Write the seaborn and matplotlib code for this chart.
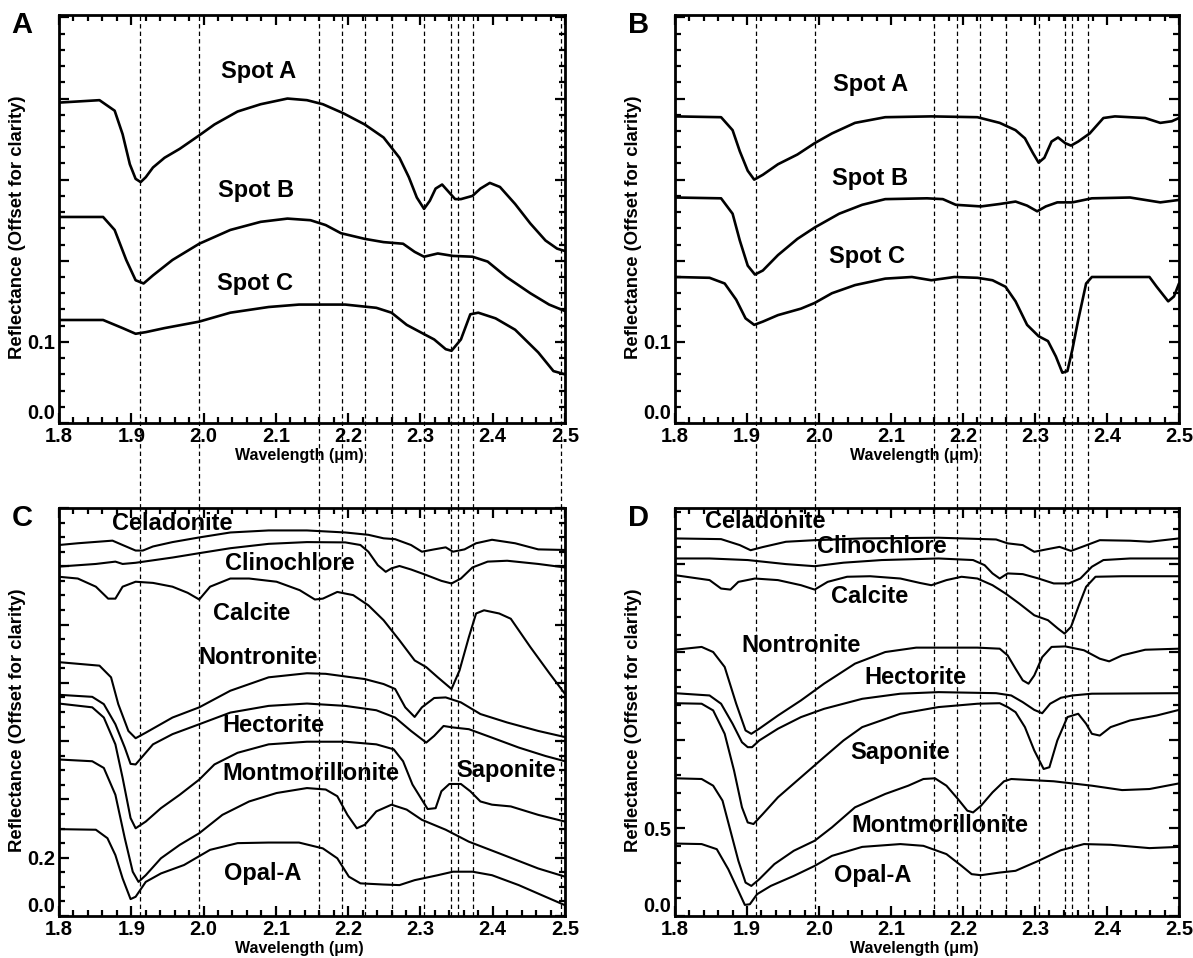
import numpy as np
import pandas as pd
import matplotlib
matplotlib.use("Agg")
import matplotlib.pyplot as plt
from matplotlib.ticker import FixedLocator, MultipleLocator
import seaborn as sns

# ---------------- Panel A: spot spectra (set 1) ----------------
a_spotA_wl = [1.800, 1.856, 1.877, 1.888, 1.898, 1.906, 1.913, 1.920, 1.930, 1.946, 1.967, 1.993, 2.015,
              2.047, 2.079, 2.116, 2.143, 2.165, 2.193, 2.223, 2.249, 2.271, 2.284, 2.295, 2.305, 2.313,
              2.321, 2.330, 2.337, 2.348, 2.356, 2.372, 2.383, 2.396, 2.410, 2.431, 2.452, 2.473, 2.489, 2.500]
a_spotA_r = [0.395, 0.398, 0.385, 0.356, 0.319, 0.301, 0.297, 0.303, 0.315, 0.327, 0.338, 0.354, 0.368,
             0.384, 0.393, 0.400, 0.398, 0.393, 0.382, 0.368, 0.352, 0.327, 0.303, 0.278, 0.264, 0.274,
             0.289, 0.294, 0.287, 0.276, 0.276, 0.280, 0.289, 0.296, 0.291, 0.270, 0.246, 0.225, 0.215, 0.212]
a_spotB_wl = [1.800, 1.861, 1.877, 1.893, 1.906, 1.917, 1.930, 1.957, 1.994, 2.037, 2.079, 2.116, 2.148,
              2.169, 2.190, 2.223, 2.249, 2.276, 2.292, 2.305, 2.324, 2.345, 2.372, 2.393, 2.419, 2.452,
              2.478, 2.500]
a_spotB_r = [0.254, 0.254, 0.238, 0.201, 0.176, 0.172, 0.182, 0.201, 0.221, 0.238, 0.248, 0.252, 0.250,
             0.244, 0.234, 0.227, 0.223, 0.221, 0.211, 0.205, 0.209, 0.206, 0.205, 0.199, 0.180, 0.160,
             0.146, 0.138]
a_spotC_wl = [1.800, 1.861, 1.888, 1.906, 1.920, 1.946, 1.994, 2.037, 2.090, 2.132, 2.196, 2.239, 2.260,
              2.281, 2.302, 2.319, 2.335, 2.343, 2.356, 2.369, 2.380, 2.404, 2.431, 2.463, 2.484, 2.500]
a_spotC_r = [0.127, 0.127, 0.117, 0.110, 0.112, 0.117, 0.125, 0.136, 0.143, 0.146, 0.146, 0.142, 0.136,
             0.121, 0.111, 0.103, 0.091, 0.089, 0.103, 0.134, 0.136, 0.129, 0.115, 0.087, 0.064, 0.060]

# ---------------- Panel B: spot spectra (set 2) ----------------
b_spotA_wl = [1.800, 1.864, 1.880, 1.890, 1.901, 1.910, 1.922, 1.943, 1.970, 1.994, 2.018, 2.050, 2.092,
              2.156, 2.220, 2.251, 2.273, 2.286, 2.297, 2.305, 2.313, 2.323, 2.332, 2.342, 2.350, 2.360,
              2.376, 2.395, 2.411, 2.453, 2.474, 2.490, 2.500]
b_spotA_r = [0.378, 0.377, 0.361, 0.335, 0.311, 0.300, 0.306, 0.319, 0.331, 0.345, 0.357, 0.370, 0.377,
             0.378, 0.377, 0.370, 0.361, 0.351, 0.333, 0.321, 0.327, 0.347, 0.352, 0.345, 0.342, 0.347,
             0.357, 0.376, 0.378, 0.376, 0.370, 0.372, 0.376]
b_spotB_wl = [1.800, 1.864, 1.880, 1.890, 1.901, 1.911, 1.922, 1.943, 1.970, 1.994, 2.028, 2.060, 2.092,
              2.150, 2.172, 2.190, 2.225, 2.251, 2.273, 2.289, 2.303, 2.315, 2.331, 2.352, 2.379, 2.432,
              2.474, 2.500]
b_spotB_r = [0.278, 0.277, 0.258, 0.225, 0.194, 0.183, 0.188, 0.207, 0.227, 0.241, 0.258, 0.269, 0.276,
             0.277, 0.276, 0.269, 0.267, 0.270, 0.273, 0.268, 0.261, 0.267, 0.272, 0.272, 0.277, 0.278,
             0.272, 0.275]
b_spotC_wl = [1.800, 1.848, 1.869, 1.885, 1.898, 1.910, 1.922, 1.943, 1.975, 1.994, 2.018, 2.050, 2.092,
              2.129, 2.156, 2.188, 2.220, 2.241, 2.259, 2.273, 2.289, 2.305, 2.318, 2.329, 2.338, 2.345,
              2.352, 2.360, 2.371, 2.379, 2.459, 2.469, 2.485, 2.493, 2.500]
b_spotC_r = [0.180, 0.179, 0.172, 0.152, 0.129, 0.121, 0.125, 0.133, 0.141, 0.148, 0.160, 0.170, 0.178,
             0.180, 0.176, 0.180, 0.179, 0.176, 0.168, 0.150, 0.121, 0.107, 0.101, 0.082, 0.062, 0.064,
             0.091, 0.127, 0.172, 0.180, 0.180, 0.168, 0.150, 0.156, 0.172]

# ---------------- Panel C: library spectra (set 1) ----------------
c_celad_wl = [1.800, 1.826, 1.874, 1.888, 1.906, 1.916, 1.930, 1.957, 1.994, 2.037, 2.090, 2.143, 2.196,
              2.228, 2.249, 2.265, 2.287, 2.302, 2.319, 2.335, 2.345, 2.361, 2.377, 2.399, 2.431, 2.463, 2.500]
c_celad_r = [1.273, 1.279, 1.288, 1.273, 1.254, 1.254, 1.268, 1.283, 1.299, 1.316, 1.323, 1.323, 1.316,
             1.308, 1.296, 1.293, 1.273, 1.250, 1.258, 1.265, 1.250, 1.258, 1.279, 1.291, 1.279, 1.258, 1.256]
c_clino_wl = [1.800, 1.851, 1.878, 1.888, 1.906, 1.957, 1.994, 2.037, 2.090, 2.143, 2.196, 2.217, 2.228,
              2.241, 2.252, 2.260, 2.271, 2.287, 2.308, 2.329, 2.343, 2.356, 2.372, 2.393, 2.420, 2.463, 2.500]
c_clino_r = [1.199, 1.208, 1.216, 1.208, 1.212, 1.230, 1.245, 1.262, 1.277, 1.283, 1.282, 1.273, 1.250,
             1.204, 1.181, 1.193, 1.201, 1.189, 1.170, 1.150, 1.141, 1.158, 1.196, 1.216, 1.219, 1.208, 1.196]
c_calc_wl = [1.800, 1.826, 1.851, 1.868, 1.878, 1.888, 1.906, 1.930, 1.957, 1.978, 1.994, 2.009, 2.037,
             2.063, 2.101, 2.133, 2.154, 2.165, 2.185, 2.207, 2.228, 2.249, 2.271, 2.292, 2.308, 2.324,
             2.343, 2.354, 2.367, 2.377, 2.388, 2.409, 2.425, 2.452, 2.479, 2.500]
c_calc_r = [1.164, 1.158, 1.130, 1.089, 1.089, 1.130, 1.147, 1.143, 1.130, 1.109, 1.086, 1.130, 1.158,
            1.158, 1.147, 1.118, 1.086, 1.089, 1.112, 1.101, 1.066, 1.015, 0.946, 0.877, 0.854, 0.819,
            0.779, 0.842, 0.957, 1.038, 1.049, 1.038, 1.020, 0.923, 0.831, 0.762]
c_nont_wl = [1.800, 1.856, 1.872, 1.882, 1.896, 1.906, 1.920, 1.957, 1.994, 2.037, 2.090, 2.143, 2.169,
             2.223, 2.249, 2.265, 2.279, 2.292, 2.302, 2.319, 2.335, 2.356, 2.383, 2.420, 2.463, 2.500]
c_nont_r = [0.871, 0.859, 0.819, 0.727, 0.635, 0.610, 0.629, 0.681, 0.716, 0.773, 0.819, 0.833, 0.831,
            0.813, 0.796, 0.779, 0.716, 0.683, 0.716, 0.748, 0.750, 0.733, 0.693, 0.664, 0.635, 0.614]
c_hect_wl = [1.800, 1.846, 1.862, 1.878, 1.891, 1.899, 1.906, 1.914, 1.930, 1.957, 1.994, 2.037, 2.090,
             2.143, 2.196, 2.239, 2.265, 2.287, 2.308, 2.319, 2.332, 2.345, 2.367, 2.399, 2.436, 2.473, 2.500]
c_hect_r = [0.759, 0.752, 0.727, 0.658, 0.578, 0.522, 0.520, 0.543, 0.589, 0.624, 0.658, 0.698, 0.721,
            0.729, 0.721, 0.706, 0.681, 0.635, 0.595, 0.618, 0.652, 0.647, 0.641, 0.612, 0.578, 0.549, 0.531]
c_sapo_wl = [1.800, 1.846, 1.862, 1.878, 1.888, 1.899, 1.906, 1.920, 1.941, 1.967, 1.994, 2.015, 2.047,
             2.090, 2.143, 2.196, 2.239, 2.263, 2.276, 2.289, 2.302, 2.310, 2.321, 2.329, 2.340, 2.356,
             2.369, 2.383, 2.399, 2.425, 2.463, 2.500]
c_sapo_r = [0.729, 0.716, 0.681, 0.589, 0.474, 0.336, 0.301, 0.324, 0.370, 0.416, 0.468, 0.520, 0.560,
            0.589, 0.598, 0.598, 0.589, 0.572, 0.531, 0.451, 0.399, 0.367, 0.370, 0.428, 0.453, 0.453,
            0.428, 0.393, 0.382, 0.376, 0.347, 0.324]
c_mont_wl = [1.800, 1.846, 1.862, 1.878, 1.891, 1.902, 1.910, 1.920, 1.941, 1.967, 1.994, 2.026, 2.063,
             2.101, 2.143, 2.169, 2.185, 2.199, 2.212, 2.223, 2.239, 2.260, 2.281, 2.302, 2.335, 2.367,
             2.409, 2.463, 2.500]
c_mont_r = [0.537, 0.531, 0.508, 0.416, 0.267, 0.152, 0.117, 0.140, 0.198, 0.244, 0.284, 0.347, 0.393,
            0.422, 0.439, 0.434, 0.411, 0.347, 0.301, 0.313, 0.359, 0.382, 0.365, 0.330, 0.296, 0.255,
            0.215, 0.163, 0.135]
c_opal_wl = [1.800, 1.851, 1.867, 1.878, 1.888, 1.899, 1.906, 1.920, 1.941, 1.973, 2.009, 2.047, 2.090,
             2.132, 2.165, 2.185, 2.201, 2.217, 2.249, 2.271, 2.292, 2.324, 2.345, 2.372, 2.399, 2.436,
             2.473, 2.500]
c_opal_r = [0.298, 0.296, 0.267, 0.209, 0.129, 0.058, 0.066, 0.117, 0.146, 0.175, 0.227, 0.250, 0.252,
            0.252, 0.232, 0.198, 0.135, 0.112, 0.108, 0.106, 0.123, 0.140, 0.152, 0.152, 0.140, 0.106,
            0.066, 0.037]

# ---------------- Panel D: library spectra (set 2) ----------------
d_celad_wl = [1.800, 1.864, 1.890, 1.905, 1.922, 1.954, 1.994, 2.060, 2.166, 2.246, 2.262, 2.283, 2.299,
              2.315, 2.334, 2.350, 2.368, 2.390, 2.432, 2.459, 2.500]
d_celad_r = [2.147, 2.143, 2.109, 2.080, 2.098, 2.128, 2.137, 2.147, 2.151, 2.141, 2.119, 2.109, 2.071,
             2.084, 2.099, 2.076, 2.103, 2.137, 2.134, 2.128, 2.147]
d_clino_wl = [1.800, 1.848, 1.901, 1.954, 1.994, 2.034, 2.087, 2.166, 2.214, 2.230, 2.241, 2.251, 2.262,
              2.283, 2.305, 2.326, 2.347, 2.363, 2.379, 2.395, 2.432, 2.500]
d_clino_r = [2.033, 2.033, 2.024, 2.001, 1.989, 2.009, 2.024, 2.033, 2.024, 1.995, 1.948, 1.919, 1.948,
             1.944, 1.919, 1.891, 1.891, 1.919, 1.986, 2.024, 2.033, 2.033]
d_calc_wl = [1.800, 1.848, 1.864, 1.877, 1.888, 1.911, 1.943, 1.975, 1.994, 2.012, 2.039, 2.071, 2.113,
             2.140, 2.156, 2.177, 2.198, 2.220, 2.241, 2.259, 2.278, 2.299, 2.318, 2.332, 2.341, 2.350,
             2.361, 2.371, 2.384, 2.421, 2.500]
d_calc_r = [1.938, 1.910, 1.862, 1.856, 1.900, 1.919, 1.910, 1.881, 1.856, 1.900, 1.929, 1.932, 1.919,
            1.894, 1.881, 1.910, 1.929, 1.919, 1.881, 1.834, 1.777, 1.710, 1.682, 1.634, 1.606, 1.644,
            1.767, 1.872, 1.929, 1.932, 1.932]
d_nont_wl = [1.800, 1.837, 1.853, 1.869, 1.885, 1.898, 1.906, 1.917, 1.943, 1.975, 2.007, 2.050, 2.092,
             2.135, 2.220, 2.251, 2.262, 2.273, 2.283, 2.291, 2.299, 2.310, 2.323, 2.342, 2.368, 2.390,
             2.403, 2.421, 2.453, 2.500]
d_nont_r = [1.514, 1.530, 1.501, 1.416, 1.207, 1.055, 1.036, 1.065, 1.140, 1.226, 1.321, 1.435, 1.501,
            1.526, 1.526, 1.520, 1.482, 1.406, 1.340, 1.321, 1.368, 1.472, 1.530, 1.533, 1.511, 1.463,
            1.448, 1.482, 1.514, 1.520]
d_hect_wl = [1.800, 1.848, 1.864, 1.880, 1.893, 1.901, 1.907, 1.917, 1.943, 1.975, 2.007, 2.060, 2.113,
             2.166, 2.246, 2.267, 2.283, 2.299, 2.310, 2.321, 2.336, 2.352, 2.379, 2.500]
d_hect_r = [1.267, 1.254, 1.207, 1.093, 0.988, 0.960, 0.960, 0.998, 1.065, 1.131, 1.178, 1.235, 1.264,
            1.273, 1.267, 1.254, 1.216, 1.172, 1.153, 1.207, 1.241, 1.254, 1.264, 1.267]
d_sapo_wl = [1.800, 1.837, 1.853, 1.869, 1.882, 1.893, 1.901, 1.909, 1.922, 1.943, 1.975, 2.007, 2.034,
             2.060, 2.113, 2.166, 2.220, 2.251, 2.262, 2.273, 2.286, 2.299, 2.312, 2.320, 2.331, 2.345,
             2.360, 2.371, 2.379, 2.390, 2.405, 2.432, 2.469, 2.500]
d_sapo_r = [1.210, 1.207, 1.169, 1.036, 0.827, 0.618, 0.532, 0.523, 0.580, 0.675, 0.789, 0.903, 0.998,
            1.074, 1.150, 1.188, 1.207, 1.210, 1.188, 1.159, 1.074, 0.941, 0.836, 0.846, 0.998, 1.131,
            1.150, 1.093, 1.036, 1.026, 1.074, 1.112, 1.140, 1.172]
d_mont_wl = [1.800, 1.837, 1.853, 1.866, 1.877, 1.888, 1.898, 1.906, 1.917, 1.938, 1.965, 1.994, 2.018,
             2.050, 2.092, 2.124, 2.145, 2.161, 2.177, 2.193, 2.206, 2.214, 2.225, 2.241, 2.257, 2.267,
             2.326, 2.379, 2.421, 2.459, 2.500]
d_mont_r = [0.783, 0.779, 0.741, 0.656, 0.485, 0.314, 0.190, 0.171, 0.209, 0.295, 0.371, 0.428, 0.504,
            0.618, 0.694, 0.741, 0.779, 0.783, 0.741, 0.665, 0.599, 0.589, 0.627, 0.703, 0.766, 0.779,
            0.766, 0.741, 0.716, 0.722, 0.754]
d_opal_wl = [1.800, 1.837, 1.858, 1.874, 1.888, 1.897, 1.904, 1.914, 1.933, 1.965, 1.994, 2.018, 2.060,
             2.113, 2.145, 2.177, 2.198, 2.212, 2.225, 2.251, 2.273, 2.305, 2.336, 2.368, 2.405, 2.459, 2.500]
d_opal_r = [0.412, 0.409, 0.380, 0.266, 0.143, 0.063, 0.067, 0.124, 0.171, 0.228, 0.285, 0.342, 0.393,
            0.409, 0.399, 0.352, 0.285, 0.238, 0.232, 0.247, 0.257, 0.314, 0.374, 0.409, 0.405, 0.386, 0.393]

# Absorption-band reference wavelengths (um)
bands_left = [1.912, 1.994, 2.160, 2.192, 2.224, 2.260, 2.305, 2.342, 2.352, 2.373, 2.495]
bands_right = [1.912, 1.994, 2.160, 2.192, 2.224, 2.260, 2.305, 2.342, 2.352, 2.373]

# Curve labels: (text, wavelength, reflectance)
labels_a = [("Spot A", 2.076, 0.433), ("Spot B", 2.073, 0.287), ("Spot C", 2.071, 0.172)]
labels_b = [("Spot A", 2.072, 0.417), ("Spot B", 2.071, 0.301), ("Spot C", 2.067, 0.205)]
labels_c = [("Celadonite", 1.957, 1.348), ("Clinochlore", 2.119, 1.208), ("Calcite", 2.066, 1.038),
            ("Nontronite", 2.076, 0.888), ("Hectorite", 2.096, 0.652), ("Montmorillonite", 2.148, 0.488),
            ("Saponite", 2.418, 0.499), ("Opal-A", 2.082, 0.146)]
labels_d = [("Celadonite", 1.925, 2.242), ("Clinochlore", 2.087, 2.100), ("Calcite", 2.071, 1.815),
            ("Nontronite", 1.975, 1.539), ("Hectorite", 2.134, 1.359), ("Saponite", 2.113, 0.931),
            ("Montmorillonite", 2.168, 0.513), ("Opal-A", 2.075, 0.228)]

# y-axis layout per panel: (ymax, major step, minor step, labelled ticks)
yaxis_a = (0.503, 0.1, 0.02, ["0.0", "0.1"])
yaxis_b = (0.503, 0.1, 0.02, ["0.0", "0.1"])
yaxis_c = (1.40, 0.2, 0.05, ["0.0", "0.2"])
yaxis_d = (2.32, 0.5, 0.1, ["0.0", "0.5"])

sns.set_theme(style="ticks")
plt.rcParams["font.family"] = ["Liberation Sans", "DejaVu Sans"]
plt.rcParams["font.weight"] = "bold"
plt.rcParams["text.color"] = "black"
plt.rcParams["axes.labelcolor"] = "black"
plt.rcParams["xtick.color"] = "black"
plt.rcParams["ytick.color"] = "black"
plt.rcParams["lines.solid_joinstyle"] = "round"
plt.rcParams["lines.solid_capstyle"] = "round"

W, H = 1193, 958
fig = plt.figure(figsize=(W / 100, H / 100), dpi=100)
fig.patch.set_facecolor("white")


def frac(l, t, r, b):
    return [l / W, 1 - b / H, (r - l) / W, (b - t) / H]


ax_a = fig.add_axes(frac(59, 15, 565, 423))
ax_b = fig.add_axes(frac(675, 15, 1179, 423))
ax_c = fig.add_axes(frac(59, 508, 565, 916))
ax_d = fig.add_axes(frac(675, 508, 1179, 916))


def make_df(wl, r, name):
    return pd.DataFrame({"wavelength": wl, "reflectance": r, "sample": name})


def draw_curves(ax, series, lw):
    df = pd.concat([make_df(w, r, n) for n, w, r in series], ignore_index=True)
    sns.lineplot(data=df, x="wavelength", y="reflectance", units="sample", estimator=None,
                 sort=False, color="black", linewidth=lw, ax=ax, legend=False)


draw_curves(ax_a, [("A", a_spotA_wl, a_spotA_r), ("B", a_spotB_wl, a_spotB_r),
                   ("C", a_spotC_wl, a_spotC_r)], 1.9)
draw_curves(ax_b, [("A", b_spotA_wl, b_spotA_r), ("B", b_spotB_wl, b_spotB_r),
                   ("C", b_spotC_wl, b_spotC_r)], 1.9)
draw_curves(ax_c, [("Celadonite", c_celad_wl, c_celad_r), ("Clinochlore", c_clino_wl, c_clino_r),
                   ("Calcite", c_calc_wl, c_calc_r), ("Nontronite", c_nont_wl, c_nont_r),
                   ("Hectorite", c_hect_wl, c_hect_r), ("Saponite", c_sapo_wl, c_sapo_r),
                   ("Montmorillonite", c_mont_wl, c_mont_r), ("Opal-A", c_opal_wl, c_opal_r)], 1.5)
draw_curves(ax_d, [("Celadonite", d_celad_wl, d_celad_r), ("Clinochlore", d_clino_wl, d_clino_r),
                   ("Calcite", d_calc_wl, d_calc_r), ("Nontronite", d_nont_wl, d_nont_r),
                   ("Hectorite", d_hect_wl, d_hect_r), ("Saponite", d_sapo_wl, d_sapo_r),
                   ("Montmorillonite", d_mont_wl, d_mont_r), ("Opal-A", d_opal_wl, d_opal_r)], 1.5)


def style_axes(ax, yaxis, letter):
    ymax, major, minor, shown = yaxis
    ax.set_xlim(1.8, 2.5)
    ax.set_ylim(0, ymax)
    ax.xaxis.set_major_locator(FixedLocator(np.round(np.arange(1.8, 2.501, 0.1), 2)))
    ax.set_xticklabels([f"{v:.1f}" for v in np.arange(1.8, 2.501, 0.1)])
    ax.xaxis.set_minor_locator(MultipleLocator(0.02))
    yt = np.round(np.arange(0, ymax + 1e-9, major), 3)
    ax.set_yticks(yt)
    ax.set_yticklabels([shown[i] if i < len(shown) else "" for i in range(len(yt))])
    ax.yaxis.set_minor_locator(MultipleLocator(minor))
    ax.tick_params(which="both", direction="in", top=True, right=True, width=1.6, color="black")
    ax.tick_params(which="major", length=7, labelsize=14.5, pad=3)
    ax.tick_params(which="minor", length=4)
    for lab in ax.get_yticklabels():
        lab.set_fontweight("bold")
        if lab.get_text() == "0.0":
            lab.set_verticalalignment("bottom")
    for lab in ax.get_xticklabels():
        lab.set_fontweight("bold")
    for sp in ax.spines.values():
        sp.set_linewidth(2.0)
        sp.set_color("black")
    ax.set_xlabel("Wavelength (μm)", fontsize=11.5, fontweight="bold")
    ax.xaxis.set_label_coords(0.475, -0.062)
    ax.set_ylabel("Reflectance (Offset for clarity)", fontsize=13.3, fontweight="bold")
    ax.yaxis.set_label_coords(-0.066, 0.48)
    ax.text(-0.073, 0.975, letter, transform=ax.transAxes, fontsize=21, fontweight="bold",
            ha="center", va="center")


style_axes(ax_a, yaxis_a, "A")
style_axes(ax_b, yaxis_b, "B")
style_axes(ax_c, yaxis_c, "C")
style_axes(ax_d, yaxis_d, "D")

for ax, labs in [(ax_a, labels_a), (ax_b, labels_b), (ax_c, labels_c), (ax_d, labels_d)]:
    for txt, x, y in labs:
        ax.text(x, y, txt, fontsize=17, fontweight="bold", ha="center", va="center")


def band_lines(top_ax, bottom_ax, bands):
    # extend each band marker from the top panel down through the gap into the lower panel
    tb = top_ax.get_position()
    bb = bottom_ax.get_position()
    ymin = (bb.y1 - tb.y0) / tb.height
    for x in bands:
        top_ax.axvline(x, ymin=ymin, ymax=1, color="black", lw=0.9, ls=(0, (3.5, 2.5)),
                       clip_on=False, zorder=1)
        bottom_ax.axvline(x, ymin=0, ymax=1, color="black", lw=0.9, ls=(0, (3.5, 2.5)), zorder=1)


band_lines(ax_a, ax_c, bands_left)
band_lines(ax_b, ax_d, bands_right)

fig.savefig("out.png", dpi=100, facecolor="white")
